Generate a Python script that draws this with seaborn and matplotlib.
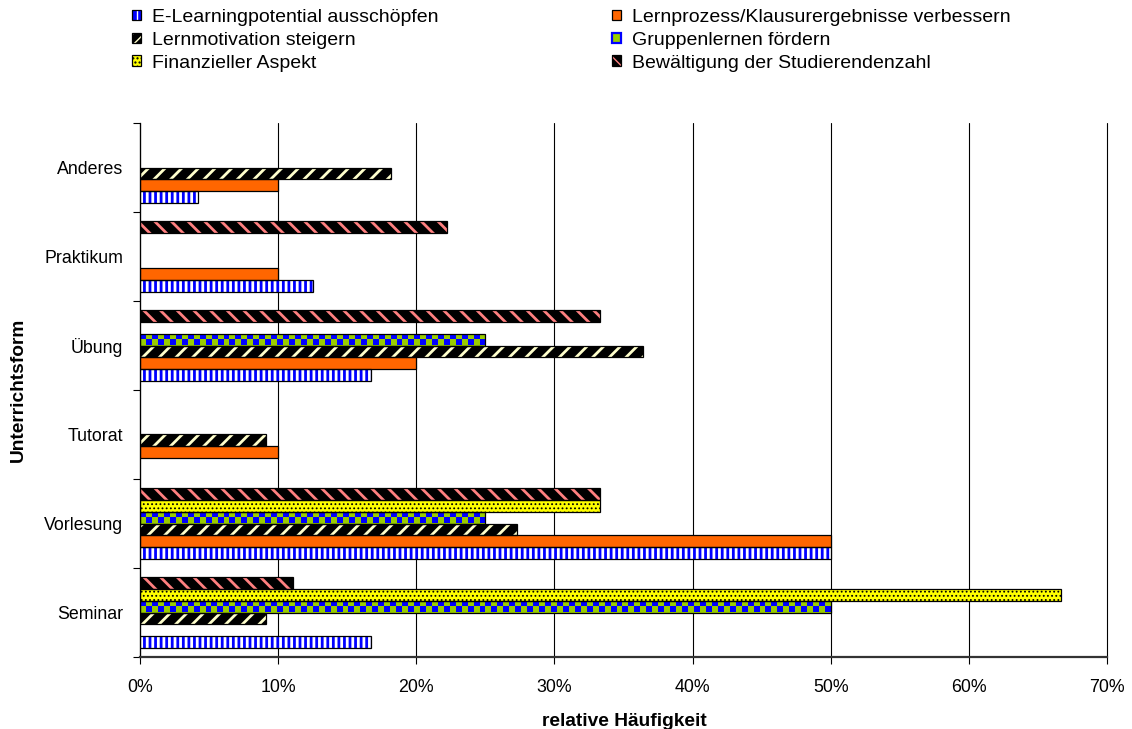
import numpy as np
import pandas as pd
import matplotlib
matplotlib.use("Agg")
import matplotlib.pyplot as plt
import seaborn as sns
from matplotlib.patches import Patch
from matplotlib.legend_handler import HandlerTuple
from matplotlib.ticker import FixedLocator, FuncFormatter

# Teaching formats, top to bottom
forms = ["Anderes", "Praktikum", "Übung", "Tutorat", "Vorlesung", "Seminar"]

# Goals (legend order)
goals = [
    "E-Learningpotential ausschöpfen",
    "Lernprozess/Klausurergebnisse verbessern",
    "Lernmotivation steigern",
    "Gruppenlernen fördern",
    "Finanzieller Aspekt",
    "Bewältigung der Studierendenzahl",
]

nan = np.nan
# Relative frequency in percent, one value per entry of `forms`
elearning = [4.2, 12.5, 16.7, nan, 50.0, 16.7]
lernprozess = [10.0, 10.0, 20.0, 10.0, 50.0, nan]
lernmotivation = [18.2, nan, 36.4, 9.1, 27.3, 9.1]
gruppenlernen = [nan, nan, 25.0, nan, 25.0, 50.0]
finanziell = [nan, nan, nan, nan, 33.3, 66.7]
bewaeltigung = [nan, 22.2, 33.3, nan, 33.3, 11.1]

x_ticks = [0, 10, 20, 30, 40, 50, 60, 70]

values = [elearning, lernprozess, lernmotivation, gruppenlernen, finanziell, bewaeltigung]
df = pd.DataFrame({
    "Unterrichtsform": np.tile(forms, len(goals)),
    "Ziel": np.repeat(goals, len(forms)),
    "Anteil": np.concatenate(values),
}).dropna()

# Fill colour and hatch texture per goal
styles = {
    goals[0]: dict(face="#0000FF", hatch="|||", hcolor="white", hlw=2.0, lhatch="||"),
    goals[1]: dict(face="#FF6600", hatch=None, hcolor="black", hlw=1.0, lhatch=None),
    goals[2]: dict(face="black", hatch="//", hcolor="#FFFFCC", hlw=2.0, lhatch="///"),
    goals[3]: dict(face="#99CC00", hatch=None, hcolor="#0000FF", hlw=1.0, lhatch=None, checker=True),
    goals[4]: dict(face="#FFFF00", hatch="....", hcolor="black", hlw=0.8, lhatch="...."),
    goals[5]: dict(face="black", hatch="\\\\", hcolor="#FF8080", hlw=2.0, lhatch="\\\\\\"),
}

sns.set_style("white")
plt.rcParams["font.family"] = ["Liberation Sans", "DejaVu Sans"]
plt.rcParams["text.color"] = "black"
plt.rcParams["axes.labelcolor"] = "black"
plt.rcParams["xtick.color"] = "black"
plt.rcParams["ytick.color"] = "black"

W, H = 1132, 729
fig, ax = plt.subplots(figsize=(W / 100, H / 100), dpi=100)
fig.subplots_adjust(left=140 / W, right=1107 / W, top=1 - 123 / H, bottom=1 - 657 / H)

# Last goal sits at the top of each group
hue_order = goals[::-1]
sns.barplot(
    data=df, x="Anteil", y="Unterrichtsform", hue="Ziel",
    order=forms, hue_order=hue_order,
    palette={g: styles[g]["face"] for g in goals},
    orient="h", errorbar=None, width=0.8, saturation=1,
    linewidth=0, legend=False, ax=ax, zorder=2,
)

bar_h = 0.8 / len(hue_order)
checker_rgb = np.array([[0x00, 0x00, 0xFF], [0x99, 0xCC, 0x00]]) / 255.0
cell = 0.43  # checker cell width in percent units

for p in list(ax.patches):
    yc = p.get_y() + p.get_height() / 2
    off = yc - round(yc)
    g = hue_order[int(round((off + 0.4) / bar_h - 0.5))]
    st = styles[g]
    p.set_facecolor(st["face"])
    p.set_linewidth(0)
    if st["hatch"]:
        p.set_hatch(st["hatch"])
        p.set_edgecolor(st["hcolor"])
        if hasattr(p, "set_hatch_linewidth"):
            p.set_hatch_linewidth(st["hlw"])
    if st.get("checker"):
        x0, y0, w, h = p.get_x(), p.get_y(), p.get_width(), p.get_height()
        ncol = max(1, int(round(w / cell)))
        idx = (np.arange(2)[:, None] + np.arange(ncol)[None, :]) % 2
        im = ax.imshow(checker_rgb[idx], extent=(x0, x0 + w, y0 + h, y0),
                       aspect="auto", interpolation="nearest", zorder=2.5)
        im.set_clip_path(p)

# Black outlines on every bar
sns.barplot(
    data=df, x="Anteil", y="Unterrichtsform", hue="Ziel",
    order=forms, hue_order=hue_order,
    palette={g: "black" for g in goals},
    orient="h", errorbar=None, width=0.8, fill=False,
    linewidth=0.9, legend=False, ax=ax, zorder=3,
)

ax.set_xlim(0, 70)
ax.set_ylim(len(forms) - 0.5, -0.5)
ax.set_xticks(x_ticks)
ax.xaxis.set_major_formatter(FuncFormatter(lambda v, _: f"{v:.0f}%"))
ax.set_yticks(range(len(forms)))
ax.set_yticklabels(forms)
ax.yaxis.set_minor_locator(FixedLocator(np.arange(-0.5, len(forms), 1.0)))
ax.tick_params(axis="y", which="major", left=False, length=0, pad=12, labelsize=12.8, labelcolor="black")
ax.tick_params(axis="y", which="minor", left=True, length=5, width=0.8, color="black", direction="out")
ax.tick_params(axis="x", which="major", bottom=True, length=5, width=0.8, color="black",
               direction="out", pad=11, labelsize=12.8, labelcolor="black")
ax.grid(axis="x", color="black", linewidth=0.8)
ax.grid(axis="y", visible=False)
ax.set_axisbelow(True)
for line in ax.get_xgridlines():
    line.set_clip_on(False)
for side in ("top", "right"):
    ax.spines[side].set_visible(False)
ax.spines["left"].set_color("black")
ax.spines["left"].set_linewidth(0.9)
ax.spines["bottom"].set_color("#333333")
ax.spines["bottom"].set_linewidth(1.6)
ax.set_xlabel("")
ax.set_ylabel("")

fig.text(624 / W, 1 - 721 / H, "relative Häufigkeit", ha="center", va="center",
         fontsize=13.8, fontweight="bold", color="black")
fig.text(18 / W, 1 - 390 / H, "Unterrichtsform", ha="center", va="center",
         rotation=90, fontsize=13.8, fontweight="bold", color="black")

# Legend: two columns, read row by row
handles = []
for g in goals:
    st = styles[g]
    fill = Patch(facecolor=st["face"], edgecolor=st["hcolor"] if st["lhatch"] else "none",
                 hatch=st["lhatch"], linewidth=0)
    outline = Patch(facecolor="none",
                    edgecolor="#0000FF" if st.get("checker") else "black",
                    linewidth=1.6 if st.get("checker") else 0.9)
    handles.append((fill, outline))
order = [0, 2, 4, 1, 3, 5]
fig.legend(
    [handles[i] for i in order], [goals[i] for i in order],
    handler_map={tuple: HandlerTuple(ndivide=1, pad=0)},
    loc="upper left", bbox_to_anchor=(132 / W, 1 - 9 / H), ncol=2,
    frameon=False, borderpad=0, borderaxespad=0,
    handlelength=0.47, handleheight=0.47, handletextpad=0.57,
    columnspacing=8.9, labelspacing=0.3, prop={"size": 14},
    labelcolor="black",
)

fig.savefig("out.png", dpi=100)
